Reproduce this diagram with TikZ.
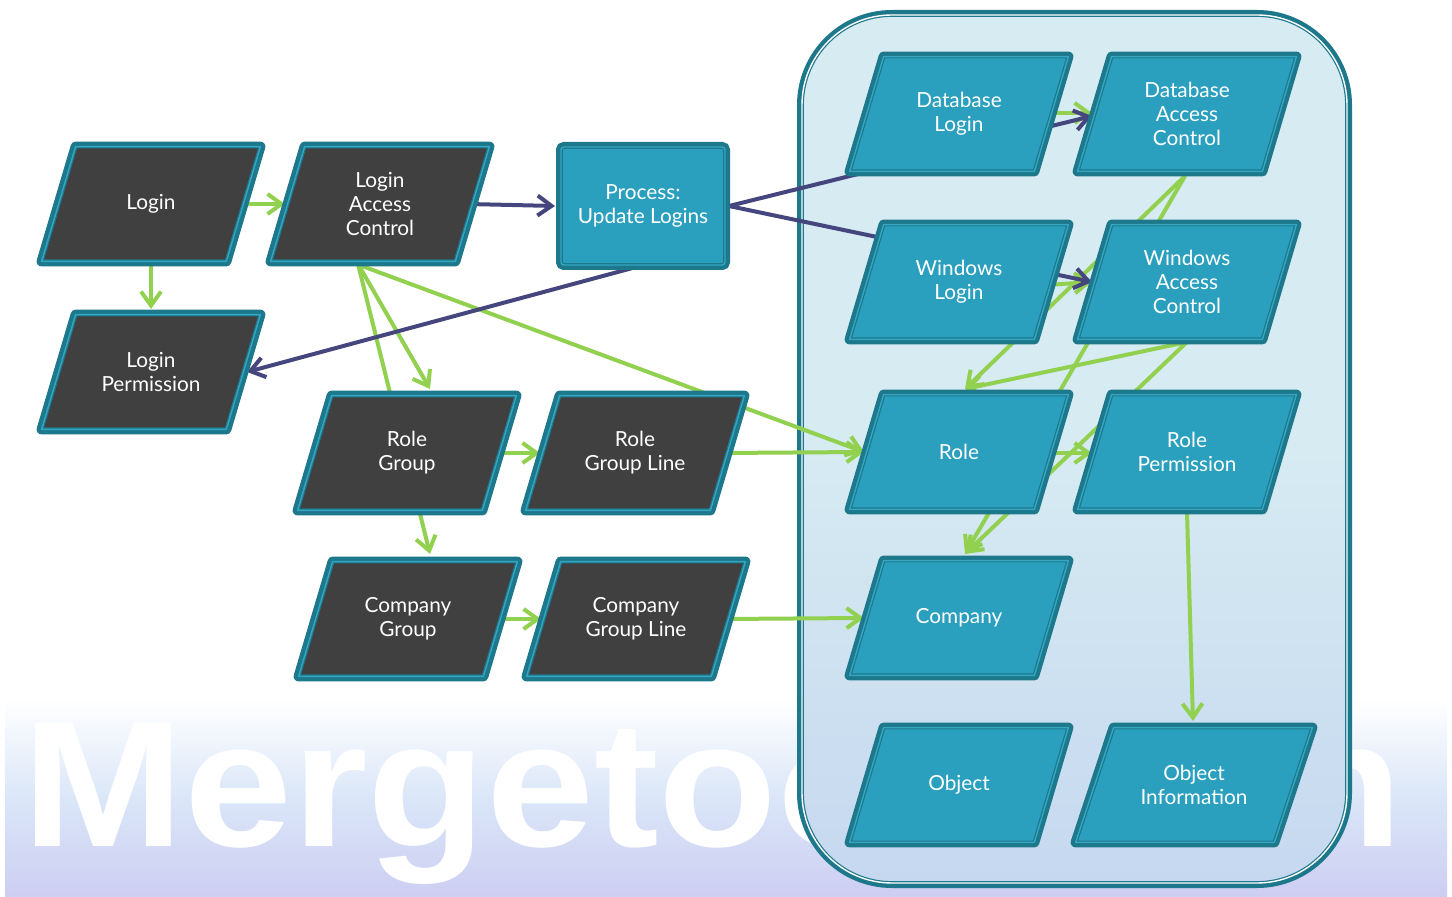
\documentclass[tikz,border=0pt]{standalone}
\usepackage{fontspec}
\setmainfont{Lato}
\newfontfamily\wmfont{Liberation Sans}
\usetikzlibrary{arrows.meta,calc}
\definecolor{tealc}{HTML}{2AA0BE}
\definecolor{bordc}{HTML}{1D788C}
\definecolor{dblc}{HTML}{34A6C2}
\definecolor{darkc}{HTML}{404040}
\definecolor{contc}{HTML}{D6EBF2}
\definecolor{contbot}{HTML}{C6D8F0}
\definecolor{greenc}{HTML}{92D050}
\definecolor{purpc}{HTML}{46467E}
\definecolor{bandmid}{HTML}{DAE6F8}
\definecolor{bandbot}{HTML}{CDCEF2}
\pgfdeclarelayer{bgzero}
\pgfdeclarelayer{background}
\pgfdeclarelayer{shapes}
\pgfsetlayers{bgzero,background,shapes,main}
\newcommand\pgram[3][17]{%
  \begin{pgfonlayer}{shapes}
  \draw[pgsty, fill=#3] ($(#2.north west)+(#1,0)$) -- ($(#2.north east)+(#1,0)$)
    -- ($(#2.south east)+(-#1,0)$) -- ($(#2.south west)+(-#1,0)$) -- cycle;
  \end{pgfonlayer}}
\begin{document}
\begin{tikzpicture}[x=0.5pt,y=-0.5pt,
  lbl/.style={rectangle, minimum width=92pt, minimum height=57pt, inner sep=0pt,
    align=center, text=white, font=\fontsize{10.4}{12}\selectfont},
  pgsty/.style={draw=bordc, line width=0.6pt, double=dblc, double distance=0.7pt, line join=round,
    preaction={draw=bordc, line width=5pt, line join=round}},
  procbox/.style={rectangle, minimum width=82pt, minimum height=59pt, inner sep=0pt,
    rounded corners=1.5pt, align=center, text=white, font=\fontsize{10.4}{12}\selectfont,
    fill=tealc, draw=bordc, line width=0.6pt, double=dblc, double distance=0.7pt,
    preaction={draw=bordc, line width=5pt}},
  cont/.style={rectangle, minimum width=272.5pt, minimum height=434pt, rounded corners=45pt,
    draw=bordc, line width=0.6pt, double=white, double distance=0.7pt,
    preaction={draw=bordc, line width=5pt},
    top color=contc, bottom color=contbot, middle color=contc},
  gr/.style={draw=greenc, line width=2pt, -{Straight Barb[length=7pt,width=10pt]}},
  pu/.style={draw=purpc, line width=2pt, -{Straight Barb[length=7pt,width=10pt]}},
]
\useasboundingbox (0,0) rectangle (1452,897);

% nodes (labels) and their parallelograms
\node[lbl] (login) at (151,204) {Login};
\node[lbl] (lac) at (380,204) {Login\\Access\\Control};
\node[procbox] (proc) at (643,206) {Process:\\Update Logins};
\node[lbl] (lperm) at (151,372) {Login\\Permission};
\node[lbl] (rg) at (407,453) {Role\\Group};
\node[lbl] (rgl) at (635,453) {Role\\Group Line};
\node[lbl] (cg) at (408,619) {Company\\Group};
\node[lbl] (cgl) at (636,619) {Company\\Group Line};
\node[lbl] (dbl) at (959,114) {Database\\Login};
\node[lbl] (dbac) at (1187,114) {Database\\Access\\Control};
\node[lbl] (wl) at (959,282) {Windows\\Login};
\node[lbl] (wac) at (1187,282) {Windows\\Access\\Control};
\node[lbl] (role) at (959,452) {Role};
\node[lbl] (rp) at (1187,452) {Role\\Permission};
\node[lbl] (comp) at (959,618) {Company};
\node[lbl] (obj) at (959,785) {Object};
\node[lbl, minimum width=99pt] (oi) at (1194,785) {Object\\Information};

\pgram{login}{darkc}
\pgram{lac}{darkc}
\pgram{lperm}{darkc}
\pgram{rg}{darkc}
\pgram{rgl}{darkc}
\pgram{cg}{darkc}
\pgram{cgl}{darkc}
\pgram{dbl}{tealc}
\pgram{dbac}{tealc}
\pgram{wl}{tealc}
\pgram{wac}{tealc}
\pgram{role}{tealc}
\pgram{rp}{tealc}
\pgram{comp}{tealc}
\pgram{obj}{tealc}
\pgram[19]{oi}{tealc}

\begin{pgfonlayer}{bgzero}
  \shade[top color=white, bottom color=bandbot, middle color=bandmid] (5,700) rectangle (1447,897);
  \node[anchor=base west, inner sep=0pt, text=white] (wm) at (22,847)
    {\wmfont\bfseries\resizebox{690pt}{65pt}{Mergetool.com}};
  \node[cont] (grp) at (1074.5,449) {};
\end{pgfonlayer}

\begin{pgfonlayer}{background}
  % green
  \draw[gr] ($(login.center)+(88,0)$) -- ($(lac.center)+(-95,0)$);
  \draw[gr] ($(login.center)+(0,58)$) -- ($(lperm.center)+(0,-63)$);
  \draw[gr] ($(lac.center)+(-22,60)$) -- ($(rg.center)+(23,-64)$);
  \draw[gr] ($(lac.center)+(-22,60)$) -- ($(cg.center)+(22,-65)$);
  \draw[gr] ($(lac.center)+(-18,62)$) -- ($(role.center)+(-95,0)$);
  \draw[gr] ($(rg.center)+(88,0)$) -- ($(rgl.center)+(-95,0)$);
  \draw[gr] ($(rgl.center)+(88,0)$) -- ($(role.center)+(-95,0)$);
  \draw[gr] ($(cg.center)+(88,0)$) -- ($(cgl.center)+(-95,0)$);
  \draw[gr] ($(cgl.center)+(88,0)$) -- ($(comp.center)+(-95,0)$);
  \draw[gr] ($(dbl.center)+(88,-1)$) -- ($(dbac.center)+(-95,-1)$);
  \draw[gr] ($(wl.center)+(88,3)$) -- ($(wac.center)+(-95,0)$);
  \draw[gr] ($(dbac.center)+(-2,62)$) -- ($(role.center)+(6,-63)$);
  \draw[gr] ($(dbac.center)+(-2,62)$) -- ($(comp.center)+(6,-64)$);
  \draw[gr] ($(wac.center)+(0,60)$) -- ($(role.center)+(6,-63)$);
  \draw[gr] ($(wac.center)+(0,60)$) -- ($(comp.center)+(6,-64)$);
  \draw[gr] ($(role.center)+(88,1)$) -- ($(rp.center)+(-95,1)$);
  \draw[gr] ($(rp.center)+(0,60)$) -- ($(oi.center)+(-1,-64)$);
  % purple
  \draw[pu] ($(lac.center)+(88,0)$) -- ($(proc.center)+(-88,0)$);
  \draw[pu] ($(proc.center)+(-3,60)$) -- ($(lperm.center)+(96,0)$);
  \draw[pu] ($(proc.center)+(86,0)$) -- ($(dbac.center)+(-95,2)$);
  \draw[pu] ($(proc.center)+(86,0)$) -- ($(wac.center)+(-95,0)$);
\end{pgfonlayer}
\end{tikzpicture}
\end{document}
